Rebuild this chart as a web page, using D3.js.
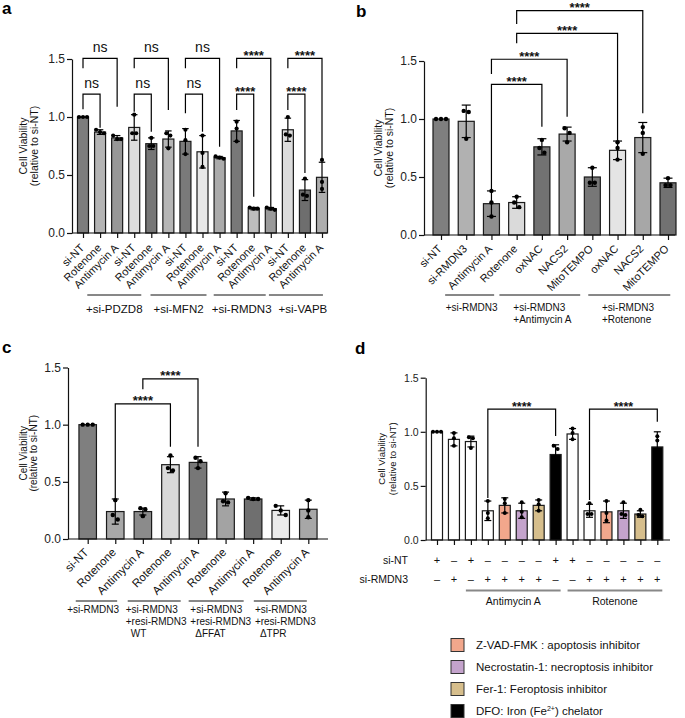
<!DOCTYPE html>
<html><head><meta charset="utf-8">
<script src="https://cdn.jsdelivr.net/npm/d3@7"></script>
<style>
body{margin:0;background:#fff}
svg{display:block}
text{font-family:"Liberation Sans",Arial,Helvetica,sans-serif;fill:#111}
</style>
</head><body>
<svg id="chart" width="685" height="718"></svg>
<script>
// ================= DATA =================
const aLabels = ["si-NT","Rotenone","Antimycin A","si-NT","Rotenone","Antimycin A","si-NT","Rotenone","Antimycin A","si-NT","Rotenone","Antimycin A","si-NT","Rotenone","Antimycin A"];
const aMeans = [1.00,0.87,0.82,0.91,0.77,0.81,0.79,0.70,0.65,0.88,0.21,0.21,0.89,0.37,0.48];
const aSD    = [0,0.02,0.02,0.11,0.05,0.07,0.11,0.14,0.01,0.09,0.01,0.01,0.10,0.09,0.13];
const aDots  = [[1,1,1],[0.89,0.87,0.86],[0.84,0.81,0.81],[1.02,0.86,0.86],[0.82,0.75,0.75],[0.86,0.84,0.73],[0.89,0.80,0.68],[0.84,0.69,0.57],[0.66,0.65,0.64],[0.96,0.90,0.79],[0.22,0.21,0.21],[0.22,0.21,0.20],[1.00,0.85,0.84],[0.47,0.33,0.32],[0.63,0.44,0.38]];
const aColors = ["#7d7d7d","#b4b4b4","#979797","#dedede","#767676","#b5b5b5","#7a7a7a","#e8e8e8","#ababab","#787878","#bdbdbd","#9a9a9a","#dcdcdc","#6e6e6e","#adadad"];
const aGroupNames = [["+si-PDZD8"],["+si-MFN2"],["+si-RMDN3"],["+si-VAPB"]];
const aGroupBars = [[3,5],[6,8],[9,11],[12,14]];
const aSigPairs = [[0,1,"ns"],[0,2,"ns"],[3,4,"ns"],[3,5,"ns"],[6,7,"ns"],[6,8,"ns"],[9,10,"****"],[9,11,"****"],[12,13,"****"],[12,14,"****"]];

const bLabels = ["si-NT","si-RMDN3","Antimycin A","Rotenone","oxNAC","NACS2","MitoTEMPO","oxNAC","NACS2","MitoTEMPO"];
const bMeans = [1.00,0.98,0.27,0.28,0.76,0.87,0.50,0.73,0.84,0.45];
const bSD    = [0,0.14,0.11,0.05,0.07,0.06,0.08,0.08,0.13,0.04];
const bDots  = [[1,1,1],[1.07,1.06,0.83],[0.38,0.28,0.16],[0.33,0.28,0.24],[0.82,0.75,0.71],[0.92,0.88,0.80],[0.58,0.45,0.45],[0.80,0.75,0.65],[0.93,0.88,0.70],[0.49,0.43,0.43]];
const bColors = ["#7f7f7f","#b1b1b1","#8e8e8e","#dadada","#727272","#a9a9a9","#777777","#e4e4e4","#a7a7a7","#727272"];
const bGroupNames = [["+si-RMDN3"],["+si-RMDN3","+Antimycin A"],["+si-RMDN3","+Rotenone"]];
const bGroupBars = [[2,3],[4,6],[7,9]];
const bSigPairs = [[2,4,"****"],[2,5,"****"],[3,7,"****"],[3,8,"****"]];

const cLabels = ["si-NT","Rotenone","Antimycin A","Rotenone","Antimycin A","Rotenone","Antimycin A","Rotenone","Antimycin A"];
const cMeans = [1.00,0.24,0.24,0.65,0.67,0.35,0.35,0.25,0.26];
const cSD    = [0,0.11,0.03,0.07,0.05,0.06,0.01,0.04,0.08];
const cDots  = [[1,1,1],[0.34,0.21,0.17],[0.27,0.26,0.20],[0.73,0.62,0.60],[0.71,0.68,0.62],[0.40,0.33,0.32],[0.36,0.35,0.35],[0.29,0.25,0.21],[0.34,0.25,0.19]];
const cColors = ["#7f7f7f","#a8a8a8","#8b8b8b","#d9d9d9","#777777","#a3a3a3","#6f6f6f","#ebebeb","#a7a7a7"];
const cGroupNames = [["+si-RMDN3"],["+si-RMDN3","+resi-RMDN3","WT"],["+si-RMDN3","+resi-RMDN3","ΔFFAT"],["+si-RMDN3","+resi-RMDN3","ΔTPR"]];
const cGroupBars = [[1,2],[3,4],[5,6],[7,8]];
const cSigPairs = [[1,3,"****"],[2,4,"****"]];

const dMeans = [1.00,0.93,0.91,0.27,0.32,0.27,0.32,0.79,0.98,0.27,0.26,0.27,0.24,0.86];
const dSD    = [0,0.06,0.05,0.09,0.07,0.07,0.05,0.09,0.05,0.06,0.10,0.07,0.03,0.14];
const dDots  = [[1,1,1],[0.99,0.94,0.87],[0.95,0.94,0.85],[0.36,0.25,0.20],[0.38,0.34,0.25],[0.35,0.26,0.21],[0.37,0.33,0.27],[0.87,0.84,0.68],[1.03,0.99,0.93],[0.34,0.24,0.24],[0.36,0.25,0.18],[0.35,0.24,0.23],[0.28,0.23,0.22],[0.96,0.92,0.70]];
const dColors = ["#ffffff","#ffffff","#ffffff","#ffffff","#f2a78c","#c4a3cc","#d6be8c","#000000","#ffffff","#ffffff","#f2a78c","#c4a3cc","#d6be8c","#000000"];
const dSiNT   = ["+","–","+","–","–","–","–","+","+","–","–","–","–","–"];
const dSiRMDN3= ["–","+","–","+","+","+","+","–","–","+","+","+","+","+"];
const dRowNames = ["si-NT","si-RMDN3"];
const dGroupNames = [["Antimycin A"],["Rotenone"]];
const dGroupBars = [[2,7],[8,13]];
const dSigPairs = [[3,7,"****"],[9,13,"****"]];
const legendLabels = ["Z-VAD-FMK : apoptosis inhibitor","Necrostatin-1: necroptosis inhibitor","Fer-1: Feroptosis inhibitor","DFO: Iron (Fe"];
const legendColors = ["#f2a78c","#c4a3cc","#d6be8c","#000000"];

const yTicks = [0,0.5,1.0,1.5];

// ================= LAYOUT =================
const svg = d3.select("#chart");

function dotOffsets(vals, y, sp){
  const ys = vals.map(v=>y(v));
  const order = d3.range(vals.length).sort((a,b)=>ys[a]-ys[b]);
  const off = vals.map(()=>0);
  const clusters=[]; let cur=[order[0]];
  for(let k=1;k<order.length;k++){
    if(ys[order[k]]-ys[order[k-1]]<sp) cur.push(order[k]); else {clusters.push(cur);cur=[order[k]];}
  }
  clusters.push(cur);
  clusters.forEach(c=>c.forEach((i,j)=>off[i]=(j-(c.length-1)/2)*sp));
  return off;
}

function drawPanel(P){
  const g = svg.append("g");
  const n = P.means.length, idx = d3.range(n);
  const y = d3.scaleLinear().domain([0,1.5]).range([P.y0,P.yTop]);
  const x = d3.scalePoint().domain(idx).range([P.xFirst,P.xLast]);

  g.selectAll("rect.bar").data(idx).join("rect").attr("class","bar")
    .attr("x",i=>x(i)-P.bw/2).attr("y",i=>y(P.means[i]))
    .attr("width",P.bw).attr("height",i=>y(0)-y(P.means[i]))
    .attr("fill",i=>P.colors[i]).attr("stroke","#1a1a1a").attr("stroke-width",1.2);

  const eIdx = idx.filter(i=>P.sd[i]>0);
  const eg = g.append("g").attr("stroke","#000").attr("stroke-width",1.2);
  eIdx.forEach(i=>{
    const lo=y(P.means[i]-P.sd[i]), hi=y(P.means[i]+P.sd[i]);
    eg.append("line").attr("x1",x(i)).attr("x2",x(i)).attr("y1",lo).attr("y2",hi);
    eg.append("line").attr("x1",x(i)-P.cap/2).attr("x2",x(i)+P.cap/2).attr("y1",hi).attr("y2",hi);
    eg.append("line").attr("x1",x(i)-P.cap/2).attr("x2",x(i)+P.cap/2).attr("y1",lo).attr("y2",lo);
  });

  idx.forEach(i=>{
    const off = dotOffsets(P.dots[i],y,P.sp);
    g.selectAll(null).data(P.dots[i]).join("circle")
      .attr("cx",(d,j)=>x(i)+off[j]).attr("cy",d=>y(d)).attr("r",P.r).attr("fill","#000");
  });

  const ya = g.append("g").attr("transform",`translate(${P.axisX},0)`)
    .call(d3.axisLeft(y).tickValues(yTicks).tickFormat(d3.format(".1f")).tickSize(P.tick).tickSizeOuter(0).tickPadding(2));
  ya.selectAll("text").style("font-size",P.yFont+"px").style("fill","#222");
  ya.selectAll("line,path").attr("stroke","#111").attr("stroke-width",1.2);

  const xa = g.append("g").attr("transform",`translate(0,${P.y0})`)
    .call(d3.axisBottom(x).tickSize(P.tick).tickFormat(""));
  xa.select(".domain").attr("d",`M${P.axisX},0H${P.xEnd}`);
  xa.selectAll("line,path").attr("stroke","#111").attr("stroke-width",1.2);

  if(P.labels){
    g.selectAll("text.xl").data(idx).join("text").attr("class","xl")
      .attr("transform",i=>`translate(${x(i)+P.lx},${P.y0+P.ly}) rotate(-45)`)
      .attr("text-anchor","end").style("font-size",P.xFont+"px").text(i=>P.labels[i]);
  }

  P.groupBars.forEach((gb,k)=>{
    const cx = (x(gb[0])+x(gb[1]))/2 + P.gShift[k];
    const x1 = P.gSpan ? x(gb[0])-P.gSpan : cx-P.gHalf[k];
    const x2 = P.gSpan ? x(gb[1])+P.gSpan : cx+P.gHalf[k];
    g.append("line").attr("x1",x1).attr("x2",x2).attr("y1",P.gLineY).attr("y2",P.gLineY)
      .attr("stroke",P.gStroke).attr("stroke-width",P.gStrokeW);
    const lines = P.groupNames[k];
    const ts = lines.map((t,j)=>g.append("text").attr("y",P.gTextY+j*P.gLineH)
      .style("font-size",P.gFont+"px").text(t));
    const maxW = d3.max(ts,t=>t.node().getComputedTextLength());
    const left = (x1+x2)/2 - maxW/2 + (P.gTextDx ? P.gTextDx[k] : 0);
    ts.forEach((t,j)=>t.attr("x",left+(j===2?5:0)));
  });

  P.sig.forEach((s,k)=>{
    const lv = P.sigLv[k];
    const xa1=x(s[0]), xa2=x(s[1]);
    g.append("path").attr("d",`M${xa1},${y(lv[1])}V${y(lv[0])}H${xa2}V${y(lv[2])}`)
      .attr("fill","none").attr("stroke","#000").attr("stroke-width",1.2);
    const ns = s[2]==="ns";
    g.append("text").attr("x",(xa1+xa2)/2).attr("y",y(lv[0])+(ns?-6:P.starDy))
      .attr("text-anchor","middle").style("font-size",(ns?P.nsFont:P.starFont)+"px")
      .style("font-weight",ns?"normal":"bold").text(s[2]);
  });

  const my=(P.y0+P.yTop)/2;
  ["Cell Viability","(relative to si-NT)"].forEach((t,j)=>{
    g.append("text").attr("transform",`translate(${P.titleX[j]},${my}) rotate(-90)`)
      .attr("text-anchor","middle").style("font-size",P.titleFont+"px").text(t);
  });

  g.append("text").attr("x",P.letter[0]).attr("y",P.letter[1]).style("font-size","17px")
    .style("font-weight","bold").style("fill","#000").text(P.letter[2]);
  return {x,y,g};
}

drawPanel({
  means:aMeans, sd:aSD, dots:aDots, colors:aColors, labels:aLabels,
  y0:233, yTop:59, axisX:72, xFirst:83, xLast:322, xEnd:327, bw:11, cap:6.5, r:2.1, sp:4, tick:5,
  yFont:12, xFont:11, lx:2, ly:15.5, titleX:[27,38], titleFont:10.5,
  groupNames:aGroupNames, groupBars:aGroupBars, gShift:[-37,-24,-14,-9], gHalf:[27,28,26,27],
  gTextDx:[0,0,2,7],
  gLineY:295, gTextY:313, gLineH:12, gFont:11.5, gStroke:"#111", gStrokeW:1,
  sig:aSigPairs,
  sigLv:[[1.198,1.066,0.908],[1.506,1.42,1.089],[1.198,1.046,0.873],[1.506,1.42,1.06],
         [1.198,1.032,0.873],[1.506,1.42,0.744],[1.198,1.06,0.313],[1.506,1.42,0.227],
         [1.198,1.06,0.517],[1.506,1.42,0.629]],
  nsFont:14, starFont:13, starDy:1.5, letter:[2,14,"a"]
});

drawPanel({
  means:bMeans, sd:bSD, dots:bDots, colors:bColors, labels:bLabels,
  y0:235, yTop:61, axisX:424, xFirst:441, xLast:668, xEnd:675, bw:16, cap:9, r:2.2, sp:5, tick:5,
  yFont:12, xFont:11, lx:1.5, ly:14.5, titleX:[381.5,392.5], titleFont:10.5,
  groupNames:bGroupNames, groupBars:bGroupBars, gShift:[-34.4,-27.3,-13.5], gHalf:[24.5,40.4,41],
  gTextDx:[2,2.6,-1.3],
  gLineY:295, gTextY:310.5, gLineH:12.5, gFont:10, gStroke:"#111", gStrokeW:1,
  sig:bSigPairs,
  sigLv:[[1.299,0.38,0.934],[1.515,1.388,1.02],[1.739,1.653,0.804],[1.935,1.819,1.049]],
  nsFont:14, starFont:13, starDy:1.5, letter:[356,17,"b"]
});

drawPanel({
  means:cMeans, sd:cSD, dots:cDots, colors:cColors, labels:cLabels,
  y0:539, yTop:367.5, axisX:68, xFirst:87.7, xLast:308.3, xEnd:328, bw:17.5, cap:7, r:2.2, sp:5, tick:5,
  yFont:12, xFont:11.5, lx:1.5, ly:14, titleX:[26.5,37], titleFont:10,
  groupNames:cGroupNames, groupBars:cGroupBars, gShift:[-32.6,-30,-23.2,-14.2], gHalf:[20.7,26.5,27.5,26.5],
  gTextDx:[-3.3,2,4.6,5],
  gLineY:601, gTextY:613, gLineH:12, gFont:10, gStroke:"#111", gStrokeW:1,
  sig:cSigPairs,
  sigLv:[[1.181,0.356,0.807],[1.40,1.31,0.807]],
  nsFont:14, starFont:13, starDy:1.5, letter:[2,353,"c"]
});

const D = drawPanel({
  means:dMeans, sd:dSD, dots:dDots, colors:dColors, labels:null,
  y0:540, yTop:377.7, axisX:425.7, xFirst:437, xLast:657.3, xEnd:670, bw:11, cap:7, r:2, sp:4, tick:5,
  yFont:10.5, titleX:[385,396], titleFont:9.5,
  groupNames:dGroupNames, groupBars:dGroupBars, gShift:[0,0], gSpan:5,
  gLineY:590.5, gTextY:605, gLineH:12, gFont:10.5, gStroke:"#888", gStrokeW:2,
  sig:dSigPairs,
  sigLv:[[1.21,0.388,0.961],[1.21,0.37,1.093]],
  nsFont:14, starFont:12.5, starDy:1.5, letter:[355,354,"d"]
});

[dSiNT,dSiRMDN3].forEach((row,k)=>{
  const yy = [564,582.5][k];
  D.g.append("text").attr("x",408).attr("y",yy).attr("text-anchor","end").style("font-size","10.5px").text(dRowNames[k]);
  D.g.selectAll(null).data(row).join("text").attr("x",(d,i)=>D.x(i)).attr("y",yy)
    .attr("text-anchor","middle").style("font-size","11px").text(d=>d);
});

const lg = svg.append("g");
legendLabels.forEach((t,k)=>{
  const cy = 645 + k*22;
  lg.append("rect").attr("x",451).attr("y",cy-6.5).attr("width",13).attr("height",13)
    .attr("fill",legendColors[k]).attr("stroke","#333").attr("stroke-width",1);
  const tx = lg.append("text").attr("x",476).attr("y",cy+4).style("font-size","11.5px").text(t);
  if(k===3){
    tx.append("tspan").attr("dy",-4).style("font-size","7px").text("2+");
    tx.append("tspan").attr("dy",4).text(") chelator");
  }
});
</script>
</body></html>
